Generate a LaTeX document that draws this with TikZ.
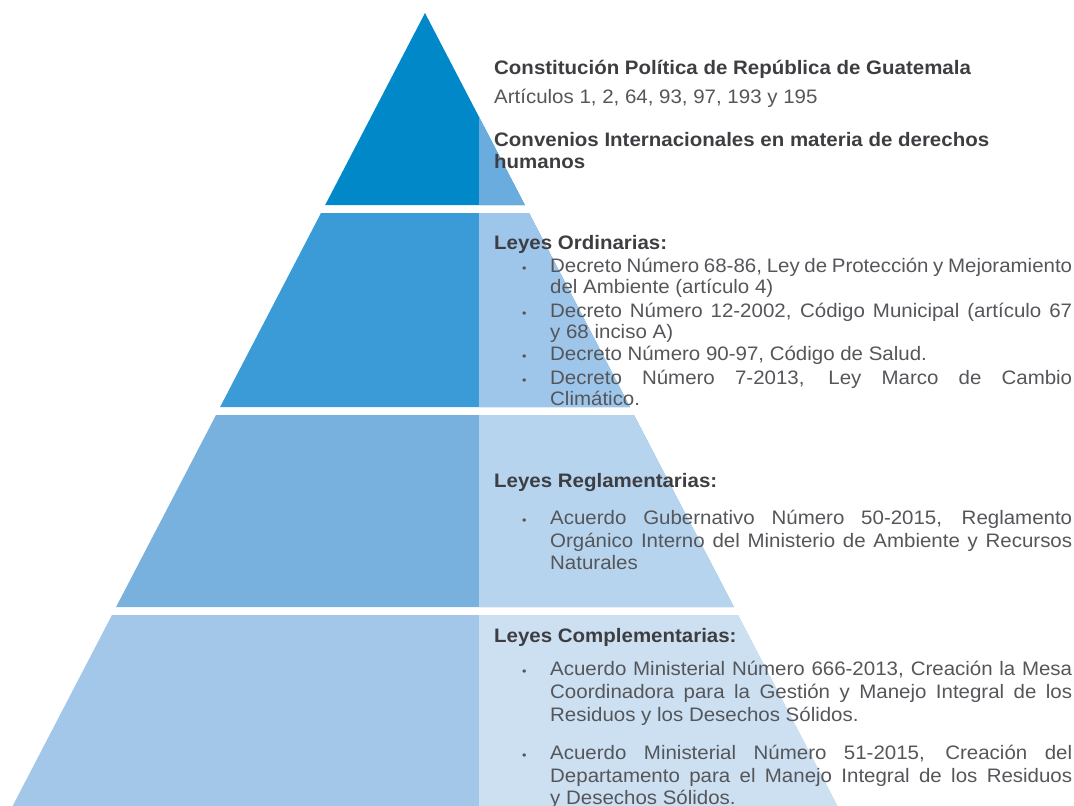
\documentclass[tikz,border=0pt]{standalone}
\usepackage{fontspec}
\setmainfont{Liberation Sans}[FakeStretch=1.05]
\definecolor{tA}{RGB}{0,136,201}
\definecolor{tAr}{RGB}{106,172,222}
\definecolor{tB}{RGB}{59,155,214}
\definecolor{tBr}{RGB}{158,198,234}
\definecolor{tC}{RGB}{121,177,222}
\definecolor{tCr}{RGB}{182,212,238}
\definecolor{tD}{RGB}{163,199,232}
\definecolor{tDr}{RGB}{204,224,242}
\definecolor{txtgray}{RGB}{85,86,90}
\definecolor{ttlgray}{RGB}{62,62,66}
\tikzset{
  txt/.style={anchor=base west, inner sep=0pt, text=txtgray, font=\fontsize{19.5}{22}\selectfont},
  ttl/.style={anchor=base west, inner sep=0pt, text=ttlgray, font=\fontsize{19.5}{22}\selectfont\bfseries},
  bul/.style={anchor=base west, inner sep=0pt, text=txtgray, font=\fontsize{12}{14}\selectfont},
}
\newcommand{\jline}[1]{{\spaceskip=0.278em plus 2em minus 0.16em\makebox[522pt][s]{#1}}}
\begin{document}
\begin{tikzpicture}[x=1pt,y=-1pt]
\useasboundingbox (0,0) rectangle (1074,806);
% tiers (left color)
\fill[tA] (425,13) -- (325.2,205) -- (524.8,205) -- cycle;
\fill[tB] (321,213) -- (220.1,407) -- (629.9,407) -- (529,213) -- cycle;
\fill[tC] (216,415) -- (116.1,607) -- (733.9,607) -- (634,415) -- cycle;
\fill[tD] (112,615) -- (12.6,806) -- (837.4,806) -- (738,615) -- cycle;
% lighter right parts
\begin{scope}
\clip (479,0) rectangle (1074,806);
\fill[tAr] (425,13) -- (325.2,205) -- (524.8,205) -- cycle;
\fill[tBr] (321,213) -- (220.1,407) -- (629.9,407) -- (529,213) -- cycle;
\fill[tCr] (216,415) -- (116.1,607) -- (733.9,607) -- (634,415) -- cycle;
\fill[tDr] (112,615) -- (12.6,806) -- (837.4,806) -- (738,615) -- cycle;
\end{scope}
% texts
\node[ttl] (l1) at (494,74) {Constitución Política de República de Guatemala};
\node[txt] (l2) at (494,103) {Artículos 1, 2, 64, 93, 97, 193 y 195};
\node[ttl] (l3) at (494,146) {Convenios Internacionales en materia de derechos};
\node[ttl] (l4) at (494,168) {humanos};
\node[ttl] (l5) at (494,249) {Leyes Ordinarias:};
\node[bul] (b1) at (522,272) {•};
\node[txt] (l6) at (550,272) {\jline{Decreto Número 68-86, Ley de Protección y Mejoramiento}};
\node[txt] (l7) at (550,293) {del Ambiente (artículo 4)};
\node[bul] (b2) at (522,317) {•};
\node[txt] (l8) at (550,317) {\jline{Decreto Número 12-2002, Código Municipal (artículo 67}};
\node[txt] (l9) at (550,338) {y 68 inciso A)};
\node[bul] (b3) at (522,360) {•};
\node[txt] (l10) at (550,360) {Decreto Número 90-97, Código de Salud.};
\node[bul] (b4) at (522,384) {•};
\node[txt] (l11) at (550,384) {\jline{Decreto Número 7-2013, Ley Marco de Cambio}};
\node[txt] (l12) at (550,405) {Climático.};
\node[ttl] (l13) at (494,487) {Leyes Reglamentarias:};
\node[bul] (b5) at (522,524) {•};
\node[txt] (l14) at (550,524) {\jline{Acuerdo Gubernativo Número 50-2015, Reglamento}};
\node[txt] (l15) at (550,547) {\jline{Orgánico Interno del Ministerio de Ambiente y Recursos}};
\node[txt] (l16) at (550,569) {Naturales};
\node[ttl] (l17) at (494,642) {Leyes Complementarias:};
\node[bul] (b6) at (522,675) {•};
\node[txt] (l18) at (550,675) {\jline{Acuerdo Ministerial Número 666-2013, Creación la Mesa}};
\node[txt] (l19) at (550,698) {\jline{Coordinadora para la Gestión y Manejo Integral de los}};
\node[txt] (l20) at (550,721) {Residuos y los Desechos Sólidos.};
\node[bul] (b7) at (522,759) {•};
\node[txt] (l21) at (550,759) {\jline{Acuerdo Ministerial Número 51-2015, Creación del}};
\node[txt] (l22) at (550,782) {\jline{Departamento para el Manejo Integral de los Residuos}};
\node[txt] (l23) at (550,804) {y Desechos Sólidos.};
\end{tikzpicture}
\end{document}
